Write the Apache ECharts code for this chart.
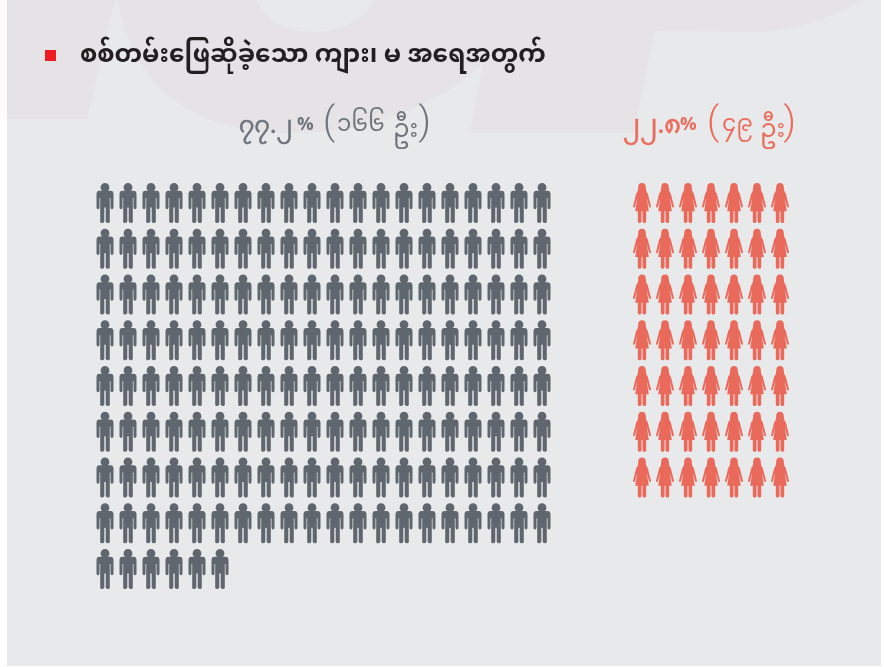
<!DOCTYPE html>
<html><head><meta charset="utf-8">
<style>html,body{margin:0;padding:0;background:#fff}#c{width:884px;height:667px}</style>
<script src="https://cdn.jsdelivr.net/npm/echarts@6/dist/echarts.min.js"></script>
</head><body><div id="c"></div>
<script>
const titleText = 'စစ်တမ်းဖြေဆိုခဲ့သော ကျား၊ မ အရေအတွက်';
const maleCount = 166;
const femaleCount = 49;
const maleColumns = 20;
const femaleColumns = 7;
const maleRows = 9;
const femaleRows = 7;

const malePath = 'path://M85 0A44 44 0 1 1 85 88A44 44 0 1 1 85 0ZM30 78H140Q170 78 170 112V245Q170 262 155 262Q140 262 140 245V150H133V385Q133 400 116 400Q98 400 92 385V245H78V385Q72 400 54 400Q37 400 37 385V150H30V245Q30 262 15 262Q0 262 0 245V112Q0 78 30 78Z';
const femalePath = 'path://M90 0C118 0 128 20 128 42C128 60 132 78 138 92H42C48 78 52 60 52 42C52 20 62 0 90 0ZM56 84H124Q140 88 148 106L180 232Q182 245 172 246Q164 247 160 236L138 150L158 282H132V385Q132 400 114 400Q98 400 95 385V282H85V385Q82 400 66 400Q48 400 48 385V282H22L42 150L20 236Q16 247 8 246Q-2 245 0 232L32 106Q40 88 56 84Z';

function points(count, cols) {
  const out = [];
  for (let i = 0; i < count; i++) out.push([i % cols, Math.floor(i / cols)]);
  return out;
}
echarts.graphic.registerShape('ghostLeft', echarts.graphic.extendShape({
  shape:{},
  buildPath(ctx){ ctx.moveTo(7,0); ctx.lineTo(115,0); ctx.lineTo(87,119); ctx.lineTo(7,119); ctx.closePath(); }
}));
echarts.graphic.registerShape('ghostBig', echarts.graphic.extendShape({
  shape:{},
  buildPath(ctx){
    ctx.moveTo(118,0);
    ctx.bezierCurveTo(125,50,160,133,290,133);
    ctx.bezierCurveTo(370,133,440,105,483,63);
    ctx.lineTo(470,133); ctx.lineTo(634,133); ctx.lineTo(654,31); ctx.lineTo(764,32);
    ctx.bezierCurveTo(800,30,835,15,864,0);
    ctx.lineTo(375,0);
    ctx.bezierCurveTo(365,20,340,32,313,32);
    ctx.bezierCurveTo(285,32,265,20,257,0);
    ctx.closePath();
  }
}));
const FONT = "'Noto Sans Myanmar','Padauk','Myanmar Text','Noto Sans',sans-serif";
const PAREN = "300 38px Roboto,sans-serif";
const GREY = '#6d747b', CORAL = '#e96c5c';
function piece(text, x, y, size, fill, align, bold, sw) {
  return {type:'text', silent:true, x, y, style:{
    text, font:(bold?'bold ':'')+size+'px '+FONT, fill, align:align||'left', verticalAlign:'middle',
    stroke: sw?fill:null, lineWidth: sw||0
  }};
}
function paren(text, x, fill, align) {
  return {type:'text', silent:true, x, y:124, style:{text, font:PAREN, fill, align, verticalAlign:'middle'}};
}
const axisOff = {type:'value', show:false};
const chart = echarts.init(document.getElementById('c'), null, {renderer:'canvas'});
chart.setOption({
  animation:false,
  backgroundColor:'#ffffff',
  grid:[
    {left:105, top:203, width:437, height:366},
    {left:642, top:203, width:138, height:274.5}
  ],
  xAxis:[
    {...axisOff, gridIndex:0, min:0, max:maleColumns-1},
    {...axisOff, gridIndex:1, min:0, max:femaleColumns-1}
  ],
  yAxis:[
    {...axisOff, gridIndex:0, min:0, max:maleRows-1, inverse:true},
    {...axisOff, gridIndex:1, min:0, max:femaleRows-1, inverse:true}
  ],
  series:[
    {type:'scatter', name:'ကျား', xAxisIndex:0, yAxisIndex:0, data:points(maleCount,maleColumns),
     symbol:malePath, symbolSize:[17,40], itemStyle:{color:'#5f666d',opacity:1}, silent:true},
    {type:'scatter', name:'မ', xAxisIndex:1, yAxisIndex:1, data:points(femaleCount,femaleColumns),
     symbol:femalePath, symbolSize:[18,40], itemStyle:{color:'#e9695a',opacity:1}, silent:true}
  ],
  graphic:[
    {type:'rect', z:-10, silent:true, shape:{x:7,y:0,width:874,height:666}, style:{fill:'#e8e9eb'}},
    {type:'rect', z:-10, silent:true, shape:{x:0,y:0,width:7,height:119}, style:{fill:'#fef9fa'}},
    {type:'ghostLeft', z:-9, silent:true, style:{fill:'#e5e3e6'}},
    {type:'ghostBig', z:-9, silent:true, style:{fill:'#e5e3e6'}},
    {type:'rect', silent:true, shape:{x:45,y:50,width:11,height:11}, style:{fill:'#ed1c24'}},
    {type:'text', silent:true, x:80, y:47, style:{text:titleText, font:"bold 24.8px "+FONT, fill:'#231f20'}},
    piece('၇၇.၂', 239, 130, 24, GREY, 'left', false, 0.5),
    piece('%', 297, 128, 18.5, GREY, 'left', true),
    paren('(', 323, GREY, 'left'),
    piece('၁၆၆', 337, 129, 23, GREY),
    piece('ဦး', 393, 134, 25, GREY),
    paren(')', 431, GREY, 'right'),
    piece('၂၂.၈', 623, 130, 25.5, CORAL, 'left', false, 0.5),
    piece('%', 680, 128, 18.5, CORAL, 'left', true),
    paren('(', 707, CORAL, 'left'),
    piece('၄၉', 722, 129, 23, CORAL),
    piece('ဦး', 760, 134, 25, CORAL),
    paren(')', 796, CORAL, 'right')
  ]
});
</script></body></html>
